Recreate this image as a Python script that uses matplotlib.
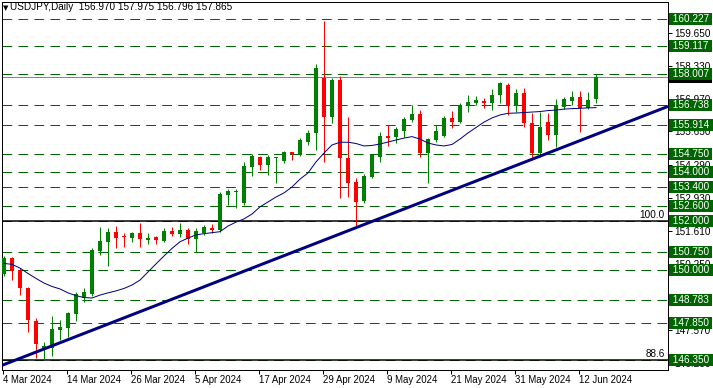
import matplotlib
matplotlib.use("Agg")
import matplotlib.pyplot as plt
from matplotlib.transforms import blended_transform_factory
import numpy as np

plt.rcParams['font.family'] = ['Liberation Sans', 'DejaVu Sans']
plt.rcParams['lines.scale_dashes'] = False

# ---------------- data ----------------
title_symbol = "USDJPY,Daily"
title_ohlc = "156.970 157.975 156.796 157.865"

x_tick_labels = ["4 Mar 2024", "14 Mar 2024", "26 Mar 2024", "5 Apr 2024", "17 Apr 2024",
                 "29 Apr 2024", "9 May 2024", "21 May 2024", "31 May 2024", "12 Jun 2024"]
x_tick_step = 8

opens = [149.84, 150.51, 150.01, 149.29, 147.93, 146.80, 146.82, 147.58, 147.66, 148.23,
         148.86, 149.05, 150.80, 151.16, 151.54, 151.40, 151.33, 151.50, 151.24, 151.34,
         151.20, 151.60, 151.48, 151.64, 151.26, 151.50, 151.71, 151.64, 153.06, 153.20,
         152.75, 154.22, 154.60, 154.28, 154.58, 154.46, 154.80, 154.69, 155.23, 155.60,
         157.81, 156.25, 157.74, 154.56, 153.58, 152.83, 153.81, 154.62, 155.46, 155.44,
         155.68, 156.12, 156.36, 154.79, 155.30, 155.46, 156.21, 156.05, 156.69, 156.82,
         156.89, 156.82, 157.13, 157.54, 156.70, 157.23, 156.00, 154.76, 156.05, 155.51,
         156.66, 156.90, 157.06, 156.62, 156.970]
highs = [150.60, 150.55, 150.08, 149.33, 148.05, 147.09, 148.14, 147.98, 148.31, 149.13,
         149.29, 150.92, 151.77, 151.71, 151.80, 151.50, 151.57, 151.94, 151.50, 151.40,
         151.71, 151.75, 151.91, 151.71, 151.71, 151.84, 151.88, 153.20, 153.30, 153.30,
         154.42, 154.72, 154.66, 154.69, 154.62, 154.85, 154.83, 155.37, 155.71, 158.38,
         160.15, 157.81, 157.91, 156.23, 153.74, 153.91, 154.73, 155.64, 155.91, 155.84,
         156.23, 156.73, 156.52, 155.37, 155.91, 156.28, 156.49, 156.82, 157.13, 157.09,
         157.00, 157.37, 157.67, 157.61, 157.37, 157.41, 156.39, 156.45, 156.39, 156.96,
         157.06, 157.31, 157.31, 157.27, 157.975]
lows = [149.76, 149.60, 149.00, 147.50, 146.42, 146.39, 146.51, 147.16, 147.30, 147.94,
        148.70, 148.97, 150.62, 150.19, 150.92, 150.96, 151.14, 150.96, 151.07, 151.08,
        151.16, 151.39, 151.37, 151.07, 150.76, 151.44, 151.50, 151.57, 152.66, 152.52,
        152.66, 153.85, 154.08, 153.88, 153.54, 154.35, 154.49, 154.66, 155.10, 154.90,
        154.42, 156.01, 152.93, 152.99, 151.77, 152.73, 153.77, 154.42, 155.07, 155.19,
        155.44, 156.05, 154.62, 153.54, 155.23, 155.41, 155.78, 155.98, 156.45, 156.73,
        156.59, 156.52, 156.82, 156.32, 156.45, 155.84, 154.49, 154.62, 155.30, 155.03,
        156.55, 156.73, 155.64, 156.55, 156.796]
closes = [150.51, 149.97, 149.27, 147.98, 147.01, 146.90, 147.61, 147.69, 148.26, 149.03,
          149.10, 150.82, 151.19, 151.54, 151.33, 151.34, 151.50, 151.26, 151.31, 151.24,
          151.60, 151.49, 151.64, 151.26, 151.60, 151.75, 151.64, 153.10, 153.23, 153.24,
          154.24, 154.66, 154.28, 154.60, 154.60, 154.80, 154.73, 155.30, 155.60, 158.24,
          156.25, 157.74, 154.56, 153.54, 152.79, 153.84, 154.68, 155.46, 155.40, 155.75,
          156.16, 156.36, 154.79, 155.33, 155.68, 156.21, 156.05, 156.73, 156.86, 156.93,
          156.82, 157.13, 157.61, 156.70, 157.23, 155.98, 154.76, 155.84, 155.51, 156.73,
          156.96, 157.06, 156.62, 156.93, 157.865]
ma_values = [150.28, 150.24, 150.09, 149.87, 149.67, 149.48, 149.34, 149.24, 149.08, 148.97,
             148.89, 148.87, 148.99, 149.08, 149.16, 149.26, 149.40, 149.60, 149.93, 150.26,
             150.58, 150.89, 151.16, 151.31, 151.44, 151.49, 151.53, 151.57, 151.80, 151.96,
             152.09, 152.29, 152.58, 152.78, 152.98, 153.15, 153.39, 153.71, 153.96, 154.41,
             154.77, 155.10, 155.21, 155.21, 155.16, 155.06, 155.08, 155.14, 155.22, 155.30,
             155.38, 155.44, 155.34, 155.18, 155.10, 155.06, 155.12, 155.34, 155.59, 155.81,
             156.03, 156.20, 156.32, 156.39, 156.40, 156.42, 156.44, 156.46, 156.50, 156.52,
             156.56, 156.58, 156.59, 156.61, 156.62]

levels = [160.227, 159.117, 158.007, 156.738, 155.914, 154.750, 154.000, 153.400,
          152.600, 152.000, 150.750, 150.000, 148.783, 147.850, 146.350]
fib_prices = [152.000, 146.350]
fib_labels = ["100.0", "88.6"]
current_price = 157.865
trend_bars = [-0.5, 83.0]
trend_prices = [146.10, 156.67]
y_ticks = [159.650, 158.330, 156.970, 155.650, 154.290, 152.930, 151.610,
           150.250, 147.570, 146.230]

# ---------------- figure ----------------
W, H = 713, 388
PX = 72 / 100.0
fig = plt.figure(figsize=(W / 100, H / 100), dpi=100)
left_px, right_px, top_px, bot_px = 1.5, 668.0, 1.5, 370.0
ax = fig.add_axes([left_px / W, (H - bot_px) / H, (right_px - left_px) / W, (bot_px - top_px) / H])

n = len(opens)
xs = np.arange(n)
o = np.array(opens); h = np.array(highs); l = np.array(lows); c = np.array(closes)
GREEN = '#008000'
RED = '#ff0000'
cols = [GREEN if cc >= oo else RED for oo, cc in zip(o, c)]

ax.set_xlim(-0.31, 83.0)
ax.set_ylim(145.941, 160.939)

# level lines
for lv in levels:
    ax.axhline(lv, color='#006400', lw=1.0 * PX, dashes=(7.0, 4.5), zorder=1)
ax.axhline(current_price, color='#778899', lw=1.0 * PX, zorder=1.5)
for fp in fib_prices:
    ax.axhline(fp, color='black', lw=1.5 * PX, zorder=1.6)
for fp, fl in zip(fib_prices, fib_labels):
    ax.text(82.6, fp + 0.04, fl, ha='right', va='bottom', fontsize=7.2, color='black', zorder=6)

# candles
ax.vlines(xs, l, h, colors=cols, lw=1.0 * PX, zorder=3)
body = np.maximum(np.abs(c - o), 0.03)
ax.bar(xs, body, bottom=np.minimum(o, c), width=0.62, color=cols, linewidth=0, zorder=3.5)

# moving average and trend line
ax.plot(xs, ma_values, color='#000080', lw=1.0 * PX, zorder=4)
ax.plot(trend_bars, trend_prices, color='#000080', lw=3.0 * PX, solid_capstyle='butt', zorder=4.5)

# axes styling
for sp in ax.spines.values():
    sp.set_color('black')
    sp.set_linewidth(1.0 * PX)
ax.yaxis.tick_right()
ax.set_yticks(y_ticks)
ax.set_yticklabels([f"{v:.3f}" for v in y_ticks])
ax.tick_params(axis='y', direction='out', length=4 * PX, width=1 * PX, pad=1.5,
               labelsize=7.2, colors='black')
ax.set_xticks(xs[::x_tick_step][:len(x_tick_labels)] - 0.12)
ax.set_xticklabels(x_tick_labels)
for lbl in ax.get_xticklabels():
    lbl.set_ha('left')
ax.tick_params(axis='x', direction='out', length=4 * PX, width=1 * PX, pad=0.5,
               labelsize=6.9, colors='black')

# right-side price boxes
trans = blended_transform_factory(ax.transAxes, ax.transData)
bx = 1.0 + 1.5 / (right_px - left_px)
ax.text(bx, current_price, f" {current_price:.3f} ", transform=trans, ha='left', va='center',
        color='white', fontsize=7.2, clip_on=False, zorder=9,
        bbox=dict(boxstyle='square,pad=0.1', fc='black', ec='none'))
for lv in levels:
    ax.text(bx, lv, f" {lv:.3f} ", transform=trans, ha='left', va='center',
            color='white', fontsize=7.2, clip_on=False, zorder=10,
            bbox=dict(boxstyle='square,pad=0.1', fc='#006400', ec='none'))

# title
fig.text(3.0 / W, 1 - 8.0 / H, "\u25bc", fontsize=5, color='black', va='center', ha='left',
         family=['DejaVu Sans'])
fig.text(10.0 / W, 1 - 7.5 / H, f"{title_symbol}  {title_ohlc}", fontsize=7.2, color='black',
         va='center', ha='left')

fig.savefig("out.png", dpi=100, facecolor='white')
